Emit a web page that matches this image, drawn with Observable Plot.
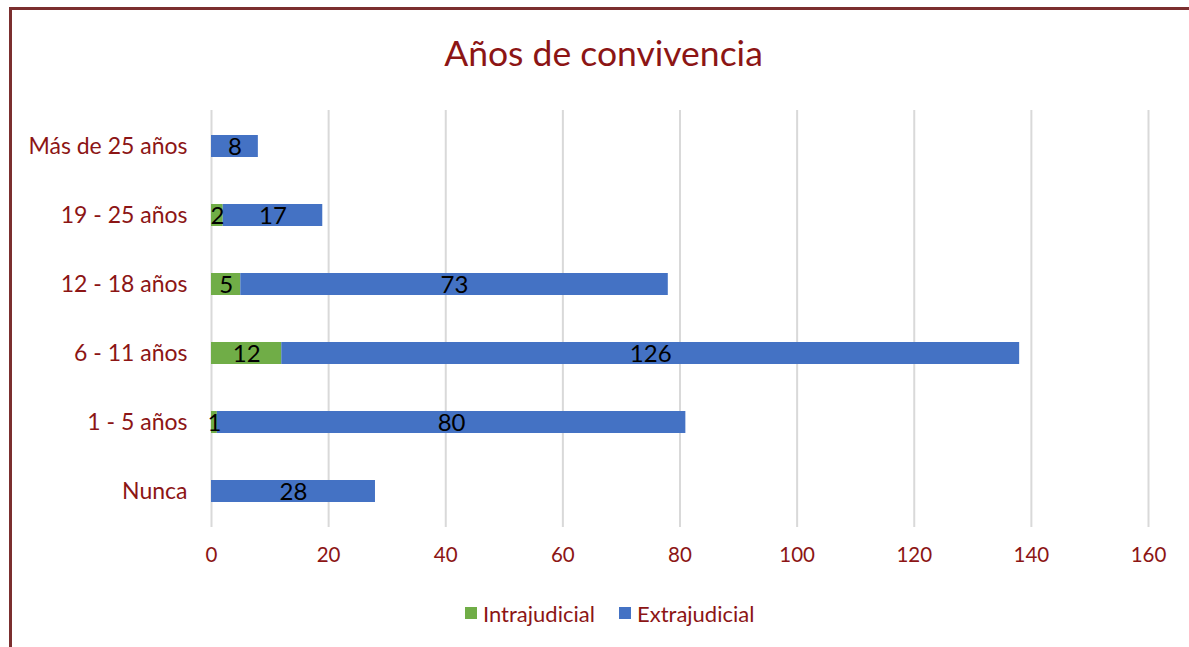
<!DOCTYPE html>
<html>
<head>
<meta charset="utf-8">
<script src="https://cdn.jsdelivr.net/npm/d3@7"></script>
<script src="https://cdn.jsdelivr.net/npm/@observablehq/plot@0.6"></script>
<style>
  html, body { margin: 0; padding: 0; background: #fff; }
  #wrap { position: relative; width: 1189px; height: 647px; overflow: hidden; font-family: Lato, "Open Sans", sans-serif; }
  #frame { position: absolute; left: 9px; top: 7px; right: -10px; bottom: -10px; border-left: 3px solid #7b2f2f; border-top: 3px solid #7b2f2f; }
  #title { position: absolute; left: 9px; width: 1189px; top: 31px; text-align: center; font-size: 35.5px; color: #8c1515; line-height: 44px; }
  #chart { position: absolute; left: 0; top: 95px; }
  #legend { position: absolute; top: 600px; left: 0; width: 1189px; height: 26px; font-size: 22px; color: #8c1515; }
  .item { position: absolute; top: 0; display: flex; align-items: center; height: 26px; }
  .sw { width: 12px; height: 12px; margin-right: 6px; }
  #chart g[aria-label="y-axis tick label"] { font-size: 23px; }
</style>
</head>
<body>
<div id="wrap">
  <div id="frame"></div>
  <div id="title">Años de convivencia</div>
  <div id="chart"></div>
  <div id="legend"></div>
</div>
<script>
const categories = ["Más de 25 años", "19 - 25 años", "12 - 18 años", "6 - 11 años", "1 - 5 años", "Nunca"];
const seriesNames = ["Intrajudicial", "Extrajudicial"];
const intrajudicial = [0, 2, 5, 12, 1, 0];
const extrajudicial = [8, 17, 73, 126, 80, 28];
const xTicks = [0, 20, 40, 60, 80, 100, 120, 140, 160];
const colors = ["#70ad47", "#4472c4"];

const data = [];
categories.forEach((c, i) => {
  data.push({cat: c, series: seriesNames[0], value: intrajudicial[i]});
  data.push({cat: c, series: seriesNames[1], value: extrajudicial[i]});
});

const plot = Plot.plot({
  width: 1189,
  height: 485,
  marginLeft: 211,
  marginRight: 41,
  marginTop: 15,
  marginBottom: 53,
  style: {fontFamily: "Lato, 'Open Sans', sans-serif", fontSize: "20.5px", color: "#8c1515", background: "transparent"},
  x: {domain: [0, 160], ticks: xTicks, tickSize: 0, tickPadding: 20, label: null},
  y: {domain: categories, paddingInner: 0.68, paddingOuter: 0.34, tickSize: 0, tickPadding: 24, label: null},
  color: {domain: seriesNames, range: colors},
  marks: [
    Plot.ruleX(xTicks, {stroke: "#d9d9d9", strokeWidth: 2}),
    Plot.barX(data, Plot.stackX({x: "value", y: "cat", z: "series", fill: "series", order: seriesNames})),
    Plot.text(data, Plot.stackX({x: "value", y: "cat", z: "series", order: seriesNames, filter: d => d.value > 0, text: d => String(d.value), fill: "black", fontSize: 24, dy: 1}))
  ]
});
document.getElementById("chart").appendChild(plot);

const legend = document.getElementById("legend");
const lefts = [465, 619];
seriesNames.forEach((s, i) => {
  const it = document.createElement("div");
  it.className = "item";
  it.style.left = lefts[i] + "px";
  const sw = document.createElement("div");
  sw.className = "sw";
  sw.style.background = colors[i];
  const t = document.createElement("span");
  t.textContent = s;
  it.appendChild(sw);
  it.appendChild(t);
  legend.appendChild(it);
});
</script>
</body>
</html>
